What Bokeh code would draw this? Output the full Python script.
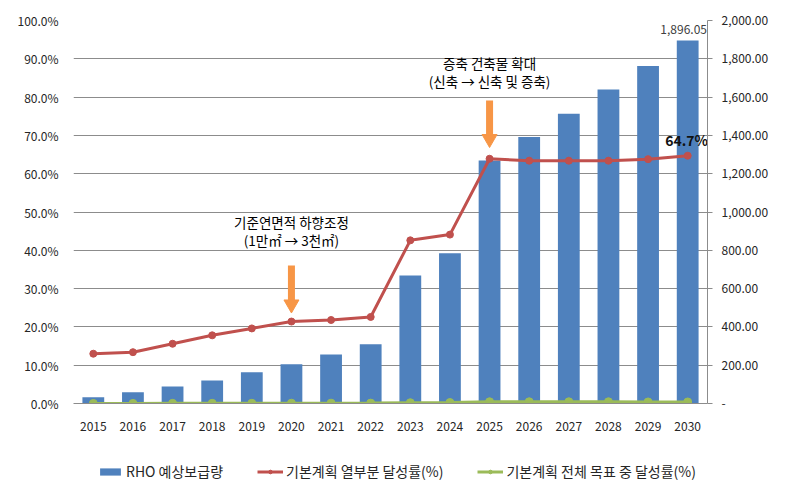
from bokeh.plotting import figure
from bokeh.layouts import column
from bokeh.models import (Range1d, LinearAxis, FixedTicker, Legend, LegendItem,
                          ColumnDataSource)
from bokeh.core.properties import value
from bokeh.embed import file_html
from bokeh.resources import INLINE

years = ["2015", "2016", "2017", "2018", "2019", "2020", "2021", "2022",
         "2023", "2024", "2025", "2026", "2027", "2028", "2029", "2030"]
supply = [33, 59, 89, 120, 163, 205, 256, 310, 668, 785, 1269, 1391, 1513, 1640, 1763, 1896.05]
rate_part = [13.0, 13.4, 15.6, 17.8, 19.6, 21.4, 21.8, 22.6, 42.6, 44.1, 63.9, 63.4, 63.4, 63.4, 63.8, 64.7]
rate_total = [0.02, 0.03, 0.04, 0.05, 0.06, 0.08, 0.09, 0.1, 0.2, 0.25, 0.45, 0.45, 0.45, 0.45, 0.4, 0.4]

left_ticks = [0, 10, 20, 30, 40, 50, 60, 70, 80, 90, 100]
right_ticks = [0, 200, 400, 600, 800, 1000, 1200, 1400, 1600, 1800, 2000]

series_names = ["RHO 예상보급량", "기본계획 열부분 달성률(%)", "기본계획 전체 목표 중 달성률(%)"]

notes = ["기준연면적 하향조정", "(1만㎡ → 3천㎡)", "증축 건축물 확대", "(신축 → 신축 및 증축)"]
note_years = ["2020", "2020", "2025", "2025"]
note_y = [47.5, 42.6, 88.8, 84.3]
arrow_years = ["2020", "2025"]
arrow_top = [36.0, 79.1]
arrow_bottom = [27.0, 70.2]
arrow_head = [25.9, 69.1]

FONT = "Noto Sans CJK KR"
BLUE = "#4F81BD"
RED = "#C0504D"
GREEN = "#9BBB59"
ORANGE = "#F79646"
GRID = "#8C8C8C"
TXT = "#262626"

p = figure(x_range=years, y_range=Range1d(0, 100), width=795, height=450,
           output_backend="svg", toolbar_location=None,
           min_border_left=73, min_border_right=88, min_border_top=20, min_border_bottom=47)
p.outline_line_color = None
p.extra_y_ranges = {"right": Range1d(0, 2000)}

src = ColumnDataSource(dict(x=years, supply=supply, part=rate_part, total=rate_total))

p.vbar(x="x", top="supply", width=0.55, source=src, y_range_name="right",
       fill_color=BLUE, line_color=None)
p.line(x="x", y="part", source=src, line_color=RED, line_width=3)
p.scatter(x="x", y="part", source=src, size=7, fill_color=RED, line_color=RED)
p.line(x="x", y="total", source=src, line_color=GREEN, line_width=3)
p.scatter(x="x", y="total", source=src, size=8, fill_color=GREEN, line_color=GREEN)

# arrows
p.segment(x0=arrow_years, y0=arrow_top, x1=arrow_years, y1=arrow_bottom,
          line_color=ORANGE, line_width=7)
p.scatter(x=arrow_years, y=arrow_head, marker="inverted_triangle", size=15,
          fill_color=ORANGE, line_color=ORANGE)

# annotation texts
p.text(x=note_years, y=note_y, text=notes, text_align="center", text_baseline="middle",
       text_font=value(FONT), text_font_size="13.5px", text_color="#000000")

# data labels
p.text(x=[years[-1]], y=[supply[-1]], text=["1,896.05"], y_range_name="right",
       text_align="center", text_baseline="bottom", x_offset=-4, y_offset=-6,
       text_font=value(FONT), text_font_size="12px", text_color="#404040")
p.text(x=[years[-1]], y=[rate_part[-1]], text=["64.7%"],
       text_align="center", text_baseline="bottom", x_offset=-1, y_offset=-6,
       text_font=value(FONT), text_font_size="14px", text_color="#111111",
       text_font_style="bold")

# left axis
ya = p.yaxis[0]
ya.ticker = FixedTicker(ticks=left_ticks)
ya.major_label_overrides = {t: f"{t:.1f}%" for t in left_ticks}
ya.axis_line_color = None
ya.major_tick_line_color = None
ya.minor_tick_line_color = None
ya.major_tick_out = 0
ya.major_label_standoff = 15
ya.major_label_text_font = FONT
ya.major_label_text_font_size = "12px"
ya.major_label_text_color = TXT

# right axis
ra = LinearAxis(y_range_name="right", ticker=FixedTicker(ticks=right_ticks))
ra.major_label_overrides = {t: ("-" if t == 0 else f"{t:,.2f}") for t in right_ticks}
ra.axis_line_color = GRID
ra.major_tick_line_color = GRID
ra.major_tick_in = 0
ra.major_tick_out = 5
ra.minor_tick_line_color = None
ra.major_label_standoff = 9
ra.major_label_text_font = FONT
ra.major_label_text_font_size = "12px"
ra.major_label_text_color = TXT
p.add_layout(ra, "right")

# x axis
xa = p.xaxis[0]
xa.axis_line_color = GRID
xa.major_tick_line_color = None
xa.major_tick_out = 0
xa.major_label_standoff = 18
xa.major_label_text_font = FONT
xa.major_label_text_font_size = "12px"
xa.major_label_text_color = TXT

p.xgrid.grid_line_color = None
p.ygrid.grid_line_color = GRID
p.ygrid.ticker = FixedTicker(ticks=left_ticks)

# legend strip below the chart (legend keys styled like the series; their one
# point lies outside the strip's range so only the legend keys show)
lg = figure(width=795, height=39, x_range=Range1d(0, 1), y_range=Range1d(0, 1),
            x_axis_type=None, y_axis_type=None, output_backend="svg",
            toolbar_location=None, min_border=0)
lg.outline_line_color = None
k1 = lg.vbar(x=[-5], top=[-5], bottom=[-6], width=0.1, fill_color=BLUE, line_color=None)
k2l = lg.line(x=[-5, -4], y=[-5, -5], line_color=RED, line_width=3)
k2s = lg.scatter(x=[-5], y=[-5], size=8, fill_color=RED, line_color=RED)
k3l = lg.line(x=[-5, -4], y=[-5, -5], line_color=GREEN, line_width=3)
k3s = lg.scatter(x=[-5], y=[-5], size=9, fill_color=GREEN, line_color=GREEN)

legend = Legend(items=[LegendItem(label=series_names[0], renderers=[k1]),
                       LegendItem(label=series_names[1], renderers=[k2l, k2s]),
                       LegendItem(label=series_names[2], renderers=[k3l, k3s])],
                orientation="horizontal", location=(24, 8),
                glyph_width=26, glyph_height=9, spacing=34, label_standoff=3,
                padding=0, margin=0, background_fill_alpha=0, border_line_color=None,
                label_text_font=FONT, label_text_font_size="14px", label_text_color=TXT)
lg.add_layout(legend, "center")

layout = column(p, lg, spacing=0)
open("out.html", "w").write(file_html(layout, INLINE))
